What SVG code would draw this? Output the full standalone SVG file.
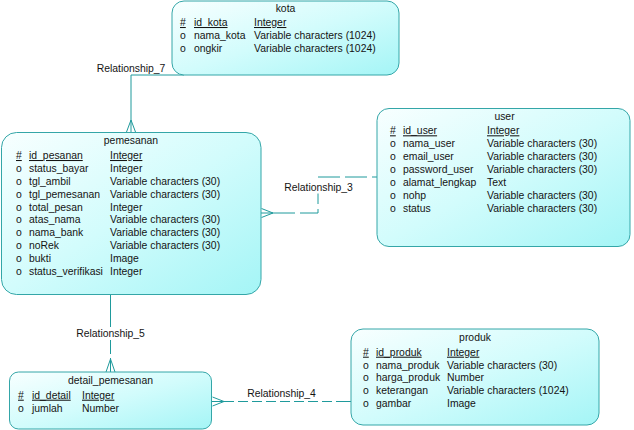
<svg xmlns="http://www.w3.org/2000/svg" width="634" height="430" viewBox="0 0 634 430">
  <defs>
    <linearGradient id="entityFill" x1="0" y1="0" x2="1" y2="1">
      <stop offset="0" stop-color="#f8ffff"/>
      <stop offset="0.5" stop-color="#d2fcfc"/>
      <stop offset="1" stop-color="#a4f5f6"/>
    </linearGradient>
  </defs>
  <style>
    .box { fill: url(#entityFill); stroke: #34a6a8; stroke-width: 1; }
    text { font-family: "Liberation Sans", Arial, sans-serif; font-size: 10.4px; fill: #141414; }
    .title { text-anchor: middle; }
    .key { text-decoration: underline; }
    .link { fill: none; stroke: #1f9a9c; stroke-width: 1; }
    .dash-long { stroke-dasharray: 22 5; }
    .dash-short { stroke-dasharray: 10 4; }
    .lbl-bg { fill: #ffffff; }
    .lbl { text-anchor: middle; }
  </style>

  <rect width="634" height="430" fill="#ffffff"/>

  <!-- relationships -->
  <g id="connectors">
    <!-- Relationship_7: kota to pemesanan -->
    <path class="link" d="M184,75 H131 V132"/>
    <path class="link" d="M131,120 L126.5,132 M131,120 L135.5,132"/>
    <rect class="lbl-bg" x="94" y="62" width="74" height="12"/>
    <text class="lbl" x="131" y="72">Relationship_7</text>

    <!-- Relationship_3: pemesanan to user -->
    <path class="link" d="M261,213 H273"/>
    <path class="link dash-long" d="M273,213 H318 V177 H377"/>
    <path class="link" d="M273,213 L261.5,208.5 M273,213 L261.5,217.5"/>
    <rect class="lbl-bg" x="282" y="180.5" width="73" height="13"/>
    <text class="lbl" x="318.5" y="190.7">Relationship_3</text>

    <!-- Relationship_5: pemesanan to detail_pemesanan -->
    <path class="link" d="M110.5,294.5 V345"/>
    <path class="link" d="M110.5,345 V354 M110.5,358 V372"/>
    <path class="link" d="M110.5,359 L106,372 M110.5,359 L115,372"/>
    <rect class="lbl-bg" x="74" y="327" width="73" height="13"/>
    <text class="lbl" x="110.5" y="337.3">Relationship_5</text>

    <!-- Relationship_4: detail_pemesanan to produk -->
    <path class="link" d="M212,401.5 H224"/>
    <path class="link dash-short" d="M224,401.5 H341"/>
    <path class="link" d="M341,401.5 H351"/>
    <path class="link" d="M224,401.5 L212.5,397 M224,401.5 L212.5,406"/>
    <text class="lbl" x="281.5" y="397.3">Relationship_4</text>
  </g>

  <!-- kota -->
  <g id="kota">
    <rect class="box" x="172" y="1" width="227" height="74" rx="12" ry="12"/>
    <text class="title" x="285.5" y="12">kota</text>
    <text class="key" x="180" y="26">#</text>
    <text class="key" x="194" y="26">id_kota</text>
    <text class="key" x="254" y="26">Integer</text>
    <text x="180" y="39">o</text>
    <text x="194" y="39">nama_kota</text>
    <text x="254" y="39">Variable characters (1024)</text>
    <text x="180" y="52">o</text>
    <text x="194" y="52">ongkir</text>
    <text x="254" y="52">Variable characters (1024)</text>
  </g>

  <!-- pemesanan -->
  <g id="pemesanan">
    <rect class="box" x="1.5" y="132.5" width="259.5" height="162" rx="15" ry="15"/>
    <text class="title" x="131" y="144">pemesanan</text>
    <text class="key" x="16" y="159">#</text>
    <text class="key" x="29" y="159">id_pesanan</text>
    <text class="key" x="110" y="159">Integer</text>
    <text x="16" y="171.9">o</text>
    <text x="29" y="171.9">status_bayar</text>
    <text x="110" y="171.9">Integer</text>
    <text x="16" y="184.7">o</text>
    <text x="29" y="184.7">tgl_ambil</text>
    <text x="110" y="184.7">Variable characters (30)</text>
    <text x="16" y="197.6">o</text>
    <text x="29" y="197.6">tgl_pemesanan</text>
    <text x="110" y="197.6">Variable characters (30)</text>
    <text x="16" y="210.5">o</text>
    <text x="29" y="210.5">total_pesan</text>
    <text x="110" y="210.5">Integer</text>
    <text x="16" y="223.4">o</text>
    <text x="29" y="223.4">atas_nama</text>
    <text x="110" y="223.4">Variable characters (30)</text>
    <text x="16" y="236.2">o</text>
    <text x="29" y="236.2">nama_bank</text>
    <text x="110" y="236.2">Variable characters (30)</text>
    <text x="16" y="249.1">o</text>
    <text x="29" y="249.1">noRek</text>
    <text x="110" y="249.1">Variable characters (30)</text>
    <text x="16" y="262">o</text>
    <text x="29" y="262">bukti</text>
    <text x="110" y="262">Image</text>
    <text x="16" y="274.8">o</text>
    <text x="29" y="274.8">status_verifikasi</text>
    <text x="110" y="274.8">Integer</text>
  </g>

  <!-- user -->
  <g id="user">
    <rect class="box" x="377" y="108.5" width="253" height="138" rx="12" ry="12"/>
    <text class="title" x="504.5" y="120">user</text>
    <text class="key" x="390" y="134.3">#</text>
    <text class="key" x="403" y="134.3">id_user</text>
    <text class="key" x="487" y="134.3">Integer</text>
    <text x="390" y="147.3">o</text>
    <text x="403" y="147.3">nama_user</text>
    <text x="487" y="147.3">Variable characters (30)</text>
    <text x="390" y="160.3">o</text>
    <text x="403" y="160.3">email_user</text>
    <text x="487" y="160.3">Variable characters (30)</text>
    <text x="390" y="173.3">o</text>
    <text x="403" y="173.3">password_user</text>
    <text x="487" y="173.3">Variable characters (30)</text>
    <text x="390" y="186.3">o</text>
    <text x="403" y="186.3">alamat_lengkap</text>
    <text x="487" y="186.3">Text</text>
    <text x="390" y="199.3">o</text>
    <text x="403" y="199.3">nohp</text>
    <text x="487" y="199.3">Variable characters (30)</text>
    <text x="390" y="212.3">o</text>
    <text x="403" y="212.3">status</text>
    <text x="487" y="212.3">Variable characters (30)</text>
  </g>

  <!-- detail_pemesanan -->
  <g id="detail_pemesanan">
    <rect class="box" x="9.5" y="372" width="202" height="57" rx="9" ry="9"/>
    <text class="title" x="110.5" y="384">detail_pemesanan</text>
    <text class="key" x="18" y="398.7">#</text>
    <text class="key" x="32" y="398.7">id_detail</text>
    <text class="key" x="82" y="398.7">Integer</text>
    <text x="18" y="411.7">o</text>
    <text x="32" y="411.7">jumlah</text>
    <text x="82" y="411.7">Number</text>
  </g>

  <!-- produk -->
  <g id="produk">
    <rect class="box" x="351" y="329" width="248" height="96" rx="12" ry="12"/>
    <text class="title" x="475" y="341">produk</text>
    <text class="key" x="363" y="355.7">#</text>
    <text class="key" x="376" y="355.7">id_produk</text>
    <text class="key" x="447" y="355.7">Integer</text>
    <text x="363" y="368.5">o</text>
    <text x="376" y="368.5">nama_produk</text>
    <text x="447" y="368.5">Variable characters (30)</text>
    <text x="363" y="381.3">o</text>
    <text x="376" y="381.3">harga_produk</text>
    <text x="447" y="381.3">Number</text>
    <text x="363" y="394.1">o</text>
    <text x="376" y="394.1">keterangan</text>
    <text x="447" y="394.1">Variable characters (1024)</text>
    <text x="363" y="407">o</text>
    <text x="376" y="407">gambar</text>
    <text x="447" y="407">Image</text>
  </g>
</svg>
